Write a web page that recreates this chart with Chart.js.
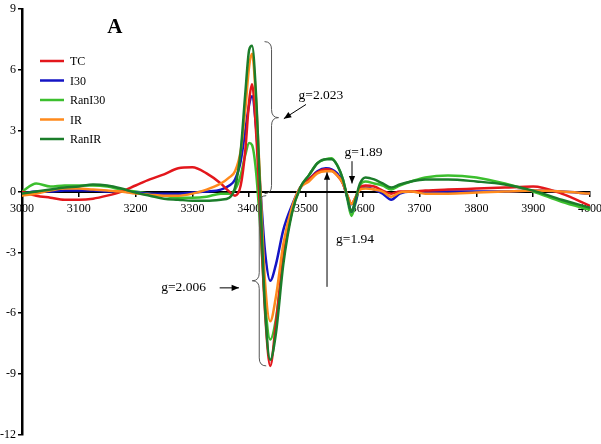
<!DOCTYPE html>
<html>
<head>
<meta charset="utf-8">
<script src="https://cdn.jsdelivr.net/npm/chart.js@4/dist/chart.umd.min.js"></script>
<style>
  html, body { margin: 0; padding: 0; background: #fff; }
  #wrap { width: 601px; height: 444px; }
</style>
</head>
<body>
<div id="wrap"><canvas id="epr"></canvas></div>
<script>
// field (G) values shared by every spectrum
const fieldX = [3000,3025,3050,3075,3100,3125,3150,3175,3200,3225,3250,3275,3300,3325,3350,3365,3375,3385,3393,3400,3405,3412,3420,3428,3437,3447,3460,3475,3490,3505,3520,3535,3545,3555,3565,3573,3580,3587,3595,3605,3620,3635,3650,3665,3685,3710,3750,3800,3850,3900,3950,4000];

const seriesNames = ['TC', 'I30', 'RanI30', 'IR', 'RanIR'];

const tcY = [0.0,-0.2,-0.3,-0.4,-0.4,-0.35,-0.2,0.0,0.3,0.6,0.85,1.15,1.2,0.9,0.4,0.0,-0.2,0.3,2.0,4.5,5.3,3.0,-1.5,-6.0,-8.6,-6.5,-3.3,-1.0,0.2,0.6,0.95,1.1,1.05,0.8,0.4,-0.2,-0.6,-0.3,0.2,0.3,0.25,0.05,-0.1,0.0,0.0,0.05,0.1,0.15,0.2,0.25,-0.1,-0.7];
const i30Y = [-0.1,0.0,0.0,0.05,0.05,0.05,0.0,0.0,-0.05,-0.1,-0.1,-0.1,-0.05,0.0,0.1,0.3,0.6,1.5,3.0,4.3,4.7,3.2,0.0,-3.0,-4.4,-3.6,-1.9,-0.7,0.2,0.6,1.0,1.15,1.1,0.9,0.4,-0.3,-1.0,-0.5,0.2,0.2,0.1,-0.1,-0.4,-0.1,0.0,-0.05,0.0,0.0,0.0,0.05,0.0,-0.1];
const ranI30Y = [0.0,0.4,0.25,0.3,0.3,0.3,0.25,0.1,0.0,-0.1,-0.2,-0.3,-0.3,-0.25,-0.1,-0.1,0.1,0.8,1.8,2.4,2.3,1.0,-2.0,-5.5,-7.3,-6.3,-3.3,-1.0,0.2,0.8,1.4,1.6,1.65,1.3,0.6,-0.4,-1.2,-0.6,0.3,0.5,0.4,0.3,0.1,0.3,0.5,0.7,0.8,0.7,0.4,0.0,-0.5,-0.9];
const irY = [-0.2,-0.1,0.05,0.15,0.15,0.1,0.05,0.0,-0.1,-0.15,-0.2,-0.2,-0.1,0.1,0.4,0.7,1.0,2.0,4.0,6.2,6.8,4.5,0.0,-4.5,-6.4,-5.2,-2.6,-0.8,0.2,0.5,0.9,1.0,1.0,0.8,0.4,-0.2,-0.6,-0.3,0.1,0.15,0.1,0.0,-0.25,-0.05,0.0,-0.1,-0.1,-0.05,0.0,0.05,0.0,-0.1];
const ranIrY = [-0.1,0.0,0.1,0.2,0.25,0.35,0.3,0.15,-0.05,-0.2,-0.35,-0.4,-0.45,-0.45,-0.4,-0.3,0.2,2.0,4.8,7.0,7.2,4.8,-0.5,-5.8,-8.3,-7.0,-3.6,-1.1,0.2,0.8,1.4,1.6,1.6,1.3,0.6,-0.3,-1.0,-0.4,0.4,0.7,0.6,0.4,0.2,0.35,0.5,0.6,0.6,0.5,0.35,0.05,-0.4,-0.8];

const seriesColors = ['#e3171c', '#1414c4', '#3cbf2e', '#ff8a1c', '#1b7d2a'];
const yTicks = [-12, -9, -6, -3, 0, 3, 6, 9];

// g-value labels, in field / signal units
const gNotes = [
    { text: 'g=2.023', x: 3487, y: 4.75 },
    { text: 'g=2.006', x: 3245, y: -4.75 },
    { text: 'g=1.94', x: 3553, y: -2.35 },
    { text: 'g=1.89', x: 3568, y: 1.95 }
];

function toPoints(ys) {
    return fieldX.map((x, i) => ({ x: x, y: ys[i] }));
}

const allY = [tcY, i30Y, ranI30Y, irY, ranIrY];
const datasets = seriesNames.map((name, i) => ({
    label: name,
    data: toPoints(allY[i]),
    borderColor: seriesColors[i],
    backgroundColor: seriesColors[i],
    borderWidth: 2.5,
    pointRadius: 0,
    fill: false,
    cubicInterpolationMode: 'monotone',
    order: [2, 3, 4, 1, 0][i]
}));

const SERIF = '"Liberation Serif", "Times New Roman", serif';

function arrow(ctx, x1, y1, x2, y2) {
    const a = Math.atan2(y2 - y1, x2 - x1);
    ctx.beginPath();
    ctx.moveTo(x1, y1);
    ctx.lineTo(x2, y2);
    ctx.stroke();
    ctx.beginPath();
    ctx.moveTo(x2, y2);
    ctx.lineTo(x2 - 8 * Math.cos(a - 0.4), y2 - 8 * Math.sin(a - 0.4));
    ctx.lineTo(x2 - 8 * Math.cos(a + 0.4), y2 - 8 * Math.sin(a + 0.4));
    ctx.closePath();
    ctx.fill();
}

// curly brace, dir = 1 points right, -1 points left
function brace(ctx, x, y1, y2, w, dir) {
    const ym = (y1 + y2) / 2;
    const h = w * dir;
    ctx.beginPath();
    ctx.moveTo(x, y1);
    ctx.quadraticCurveTo(x + h * 0.5, y1, x + h * 0.5, y1 + 8);
    ctx.lineTo(x + h * 0.5, ym - 8);
    ctx.quadraticCurveTo(x + h * 0.5, ym, x + h, ym);
    ctx.quadraticCurveTo(x + h * 0.5, ym, x + h * 0.5, ym + 8);
    ctx.lineTo(x + h * 0.5, y2 - 8);
    ctx.quadraticCurveTo(x + h * 0.5, y2, x, y2);
    ctx.stroke();
}

const decorations = {
    id: 'decorations',
    afterDraw(chart) {
        const ctx = chart.ctx;
        const xs = chart.scales.x, ys = chart.scales.y;
        const px = v => xs.getPixelForValue(v);
        const py = v => ys.getPixelForValue(v);
        ctx.save();

        // panel letter
        ctx.fillStyle = '#000';
        ctx.font = 'bold 21px ' + SERIF;
        ctx.textAlign = 'left';
        ctx.textBaseline = 'middle';
        ctx.fillText('A', px(3150), py(8.1));

        // legend
        ctx.font = '12px ' + SERIF;
        chart.data.datasets.forEach((ds, i) => {
            const yy = 61 + i * 19.5;
            ctx.strokeStyle = ds.borderColor;
            ctx.lineWidth = 2.5;
            ctx.beginPath();
            ctx.moveTo(40, yy);
            ctx.lineTo(64, yy);
            ctx.stroke();
            ctx.fillStyle = '#000';
            ctx.fillText(ds.label, 70, yy + 1);
        });

        // braces
        ctx.strokeStyle = '#555';
        ctx.lineWidth = 1;
        brace(ctx, px(3427), py(7.4), py(-0.1), 14, 1);
        brace(ctx, px(3430), py(-0.2), py(-8.6), 14, -1);

        // arrows
        ctx.strokeStyle = '#000';
        ctx.fillStyle = '#000';
        ctx.lineWidth = 1;
        arrow(ctx, px(3500), py(4.3), px(3461), py(3.6));
        arrow(ctx, px(3348), py(-4.75), px(3382), py(-4.75));
        arrow(ctx, px(3537), py(-4.7), px(3537), py(0.95));
        arrow(ctx, px(3581), py(1.5), px(3581), py(0.4));

        // g labels
        ctx.font = '13.5px ' + SERIF;
        ctx.fillStyle = '#000';
        ctx.textBaseline = 'middle';
        gNotes.forEach(n => ctx.fillText(n.text, px(n.x), py(n.y)));

        ctx.restore();
    }
};

new Chart(document.getElementById('epr'), {
    type: 'line',
    data: { datasets: datasets },
    plugins: [decorations],
    options: {
        responsive: true,
        maintainAspectRatio: false,
        animation: false,
        layout: { padding: { top: 5, right: 11, bottom: 4, left: 0 } },
        plugins: {
            legend: { display: false },
            tooltip: { enabled: false }
        },
        scales: {
            x: {
                type: 'linear',
                position: { y: 0 },
                min: 3000,
                max: 4000,
                afterFit: s => { s.paddingRight = 0; s.paddingLeft = 0; },
                ticks: {
                    stepSize: 100,
                    color: '#000',
                    font: { family: SERIF, size: 12 },
                    maxRotation: 0,
                    padding: 6,
                    callback: v => String(v)
                },
                grid: { drawOnChartArea: false, drawTicks: true, tickLength: 4, color: '#000', lineWidth: 1.5 },
                border: { color: '#000', width: 2 }
            },
            y: {
                type: 'linear',
                min: -12,
                max: 9,
                afterBuildTicks: s => { s.ticks = yTicks.map(v => ({ value: v })); },
                afterFit: s => { s.width = 22; },
                ticks: {
                    color: '#000',
                    font: { family: SERIF, size: 12 },
                    padding: 2,
                    callback: v => String(v)
                },
                grid: { drawOnChartArea: false, drawTicks: true, tickLength: 4, color: '#000', lineWidth: 1.5 },
                border: { color: '#000', width: 2.5 }
            }
        }
    }
});
</script>
</body>
</html>
